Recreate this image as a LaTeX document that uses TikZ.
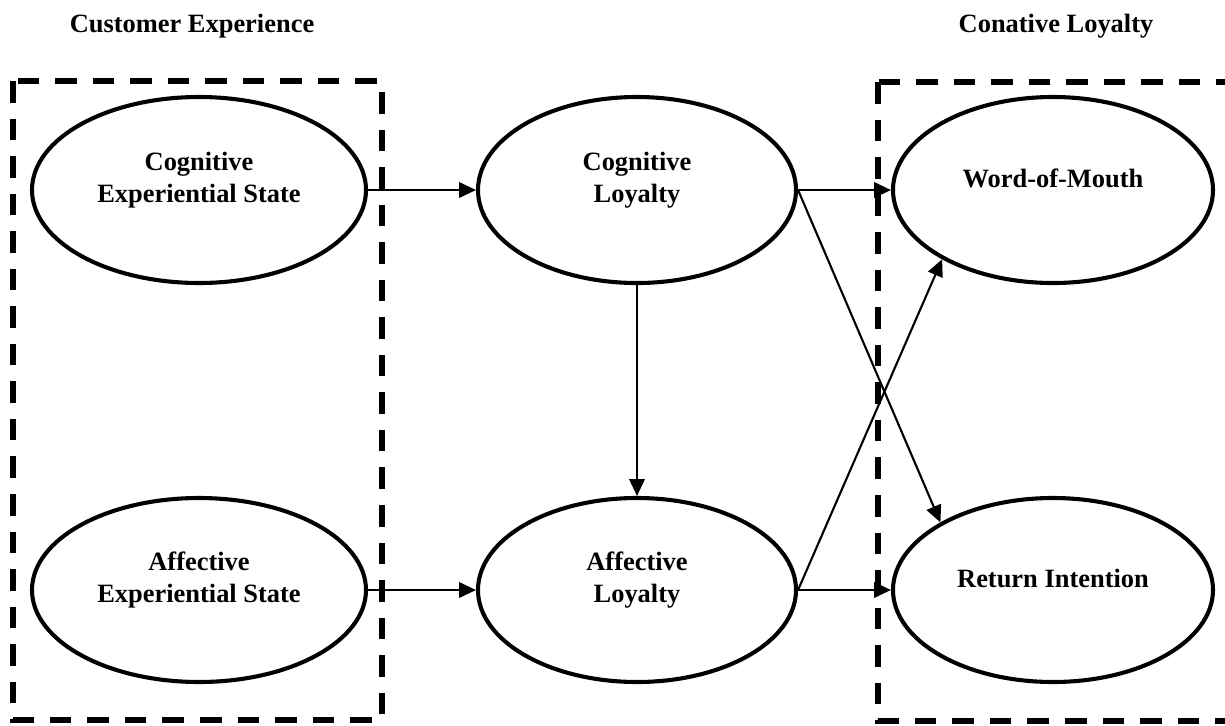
\documentclass[tikz,border=0pt]{standalone}
\usepackage{fontspec}
\setmainfont{Liberation Serif}
\usetikzlibrary{arrows.meta,shapes.geometric}

\tikzset{
  construct/.style={ellipse, draw, line width=2.9pt, inner sep=0pt},
  txt/.style={font=\fontsize{18.8pt}{22.8pt}\selectfont\bfseries, align=center, inner sep=0pt},
  grp/.style={line width=3.6pt, dash pattern=on 15.3pt off 11.4pt},
  link/.style={line width=1.5pt, -{Triangle[length=12pt,width=11pt]}}
}

\begin{document}
\begin{tikzpicture}[x=0.025cm, y=-0.025cm]
  \useasboundingbox (0,0) rectangle (1225,725);
  \clip (0,0) rectangle (1225,725);

  % group headings
  \node[txt, anchor=base] (hce) at (192,32) {Customer Experience};
  \node[txt, anchor=base] (hcl) at (1056,32) {Conative Loyalty};

  % dashed group frames
  \draw[grp] (13,81) rectangle (382,720);
  \draw[grp] (878,82) rectangle (1245,721);

  % constructs
  \node[construct, minimum width=334*0.025cm, minimum height=186*0.025cm] (ces) at (199,190) {};
  \node[construct, minimum width=318*0.025cm, minimum height=186*0.025cm] (cl)  at (637,190) {};
  \node[construct, minimum width=320*0.025cm, minimum height=186*0.025cm] (wom) at (1053,190) {};
  \node[construct, minimum width=334*0.025cm, minimum height=184*0.025cm] (aes) at (199,590) {};
  \node[construct, minimum width=318*0.025cm, minimum height=184*0.025cm] (al)  at (637,590) {};
  \node[construct, minimum width=320*0.025cm, minimum height=184*0.025cm] (ri)  at (1053,590) {};

  % construct labels
  \node[txt] (ces-t) at (199,180) {Cognitive\\Experiential State};
  \node[txt] (cl-t)  at (637,180) {Cognitive\\Loyalty};
  \node[txt, anchor=base] (wom-t) at (1053,187) {Word-of-Mouth};
  \node[txt] (aes-t) at (199,580) {Affective\\Experiential State};
  \node[txt] (al-t)  at (637,580) {Affective\\Loyalty};
  \node[txt, anchor=base] (ri-t) at (1053,587) {Return Intention};

  % paths
  \draw[link] (ces.east) -- (cl.west);
  \draw[link] (aes.east) -- (al.west);
  \draw[link] (cl.south) -- (al.north);
  \draw[link] (cl.east) -- (wom.west);
  \draw[link] (al.east) -- (ri.west);
  \draw[link] (cl.east) -- (ri.149);
  \draw[link] (al.east) -- (wom.212);
\end{tikzpicture}
\end{document}
